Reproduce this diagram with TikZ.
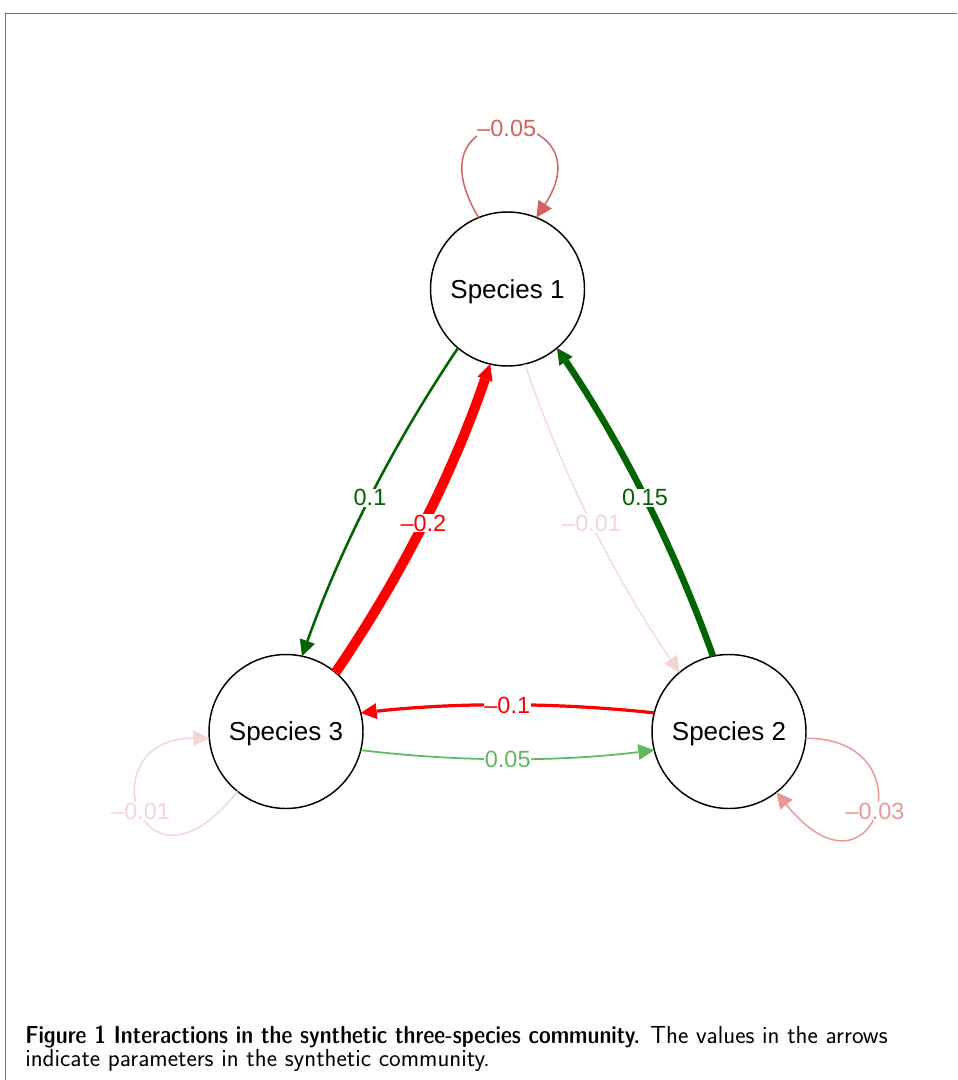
\documentclass[tikz,border=0pt]{standalone}
\usepackage{fontspec}
\newfontfamily\arialf{Liberation Sans}
\usetikzlibrary{arrows.meta,calc}
\definecolor{dkgreen}{RGB}{0,100,0}
\definecolor{ltgreen}{RGB}{95,185,95}
\definecolor{pured}{RGB}{255,0,0}
\definecolor{loopa}{RGB}{214,96,96}
\definecolor{loopb}{RGB}{232,152,152}
\definecolor{palered}{RGB}{244,212,212}
\definecolor{framec}{RGB}{85,118,168}
\begin{document}
\begin{tikzpicture}[x=0.75pt,y=-0.75pt,
  sp/.style={circle,draw=black,line width=1.1pt,minimum size=115.5pt,inner sep=0pt,outer sep=0pt,
    text depth=0pt,font=\arialf\fontsize{19.5}{22}\selectfont},
  lbl/.style={fill=white,inner sep=0.6pt,font=\arialf\fontsize{17.6}{20}\selectfont},
  edgearrow/.style={-{Triangle[length=12pt,width=12pt,line width=0pt]}},
  capfont/.style={anchor=base west,inner sep=0pt,font=\sffamily\fontsize{18.5}{19}\selectfont}
]
\useasboundingbox (0,0) rectangle (957,1080);
\draw[framec,line width=1.2pt] (5.5,1080) -- (5.5,13.5) -- (957,13.5);

\node[sp] (s1) at (507.5,289) {Species 1};
\node[sp] (s3) at (286,731.5) {Species 3};
\node[sp] (s2) at (729,731.5) {Species 2};

% between nodes (quadratic curves written as cubics)
\draw[edgearrow,dkgreen,line width=1.9pt] (s1.230)
  .. controls ($(s1.230)!2/3!(360,493.5)$) and ($(s3.78)!2/3!(360,493.5)$) .. (s3.78)
  node[lbl,pos=0.5] {0.1};
\draw[edgearrow,pured,line width=7.5pt] (s3.50)
  .. controls ($(s3.50)!2/3!(434,528.5)$) and ($(s1.257)!2/3!(434,528.5)$) .. (s1.257)
  node[lbl,pos=0.5] {\textendash0.2};
\draw[edgearrow,palered,line width=0.9pt] (s1.283)
  .. controls ($(s1.283)!2/3!(581,528.5)$) and ($(s2.130)!2/3!(581,528.5)$) .. (s2.130)
  node[lbl,pos=0.5] {\textendash0.01};
\draw[edgearrow,dkgreen,line width=4.9pt] (s2.102)
  .. controls ($(s2.102)!2/3!(655,493.5)$) and ($(s1.310)!2/3!(655,493.5)$) .. (s1.310)
  node[lbl,pos=0.5] {0.15};
\draw[edgearrow,pured,line width=2.4pt] (s2.166)
  .. controls ($(s2.166)!2/3!(507,697)$) and ($(s3.14)!2/3!(507,697)$) .. (s3.14)
  node[lbl,pos=0.5] {\textendash0.1};
\draw[edgearrow,ltgreen,line width=1.3pt] (s3.346)
  .. controls ($(s3.346)!2/3!(508,768)$) and ($(s2.194)!2/3!(508,768)$) .. (s2.194)
  node[lbl,pos=0.5] {0.05};

% self loops
\draw[edgearrow,loopa,line width=1.1pt] (s1.112) .. controls (403,92) and (610,105) .. (s1.68)
  node[lbl,pos=0.5] {\textendash0.05};
\draw[edgearrow,palered,line width=1.1pt] (s3.231.5) .. controls (140,915) and (86,738) .. (s3.185)
  node[lbl,pos=0.5] {\textendash0.01};
\draw[edgearrow,loopb,line width=1.1pt] (s2.355) .. controls (931,738) and (875,915) .. (s2.308.5)
  node[lbl,pos=0.5] {\textendash0.03};

% caption
\node[capfont] (cap1) at (25,1043) {{\fontseries{sbc}\selectfont Figure 1 Interactions in the synthetic three-species community.} The values in the arrows};
\node[capfont] (cap2) at (25,1066) {indicate parameters in the synthetic community.};
\end{tikzpicture}
\end{document}
